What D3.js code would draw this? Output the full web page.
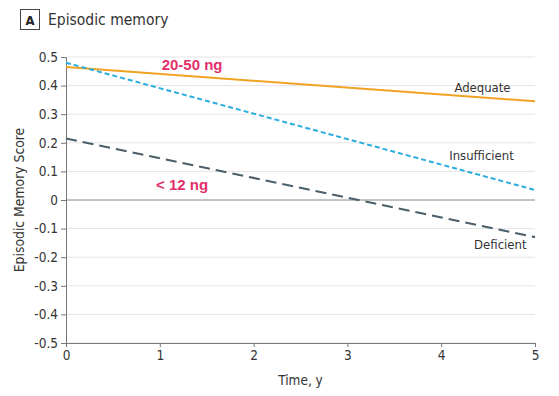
<!DOCTYPE html>
<html>
<head>
<meta charset="utf-8">
<title>Episodic memory</title>
<script src="https://d3js.org/d3.v7.min.js"></script>
<style>
  html, body { margin: 0; padding: 0; background: #fff; }
  svg { font-family: "DejaVu Sans Condensed", "DejaVu Sans", sans-serif; }
</style>
</head>
<body>
<div id="chart"></div>
<script>
// data
const years = [0, 5]
const groups = ['Adequate', 'Insufficient', 'Deficient']
const adequate = [0.465, 0.345]
const insufficient = [0.48, 0.035]
const deficient = [0.215, -0.13]
const yTicks = [0.5, 0.4, 0.3, 0.2, 0.1, 0, -0.1, -0.2, -0.3, -0.4, -0.5]
const xTicks = [0, 1, 2, 3, 4, 5]

const W = 559, H = 396
const margin = {top: 57, right: 24, bottom: 53, left: 66}

const svg = d3.select('#chart').append('svg')
  .attr('width', W).attr('height', H)

const x = d3.scaleLinear().domain([0, 5]).range([margin.left, W - margin.right])
const y = d3.scaleLinear().domain([-0.5, 0.5]).range([H - margin.bottom, margin.top])

// title box
svg.append('rect').attr('x', 20.5).attr('y', 9.5).attr('width', 19).attr('height', 20)
  .attr('fill', 'none').attr('stroke', '#444').attr('stroke-width', 1)
svg.append('text').attr('x', 30).attr('y', 25).attr('text-anchor', 'middle')
  .attr('font-size', 13).attr('font-weight', 'bold').attr('fill', '#222').text('A')
svg.append('text').attr('x', 48).attr('y', 25)
  .attr('font-size', 15.5).attr('fill', '#333').text('Episodic memory')

// grid
svg.append('g').selectAll('line').data(yTicks).join('line')
  .attr('x1', margin.left).attr('x2', W - margin.right)
  .attr('y1', d => y(d)).attr('y2', d => y(d))
  .attr('stroke', d => d === 0 ? '#888' : '#e4e4e4')
  .attr('stroke-width', 1)

// axes
const yAxis = svg.append('g').attr('transform', `translate(${margin.left},0)`)
  .call(d3.axisLeft(y).tickValues(yTicks).tickSize(5).tickPadding(3)
    .tickFormat(d => d === 0 ? '0' : d3.format('.1f')(d).replace('\u2212', '-')))
const xAxis = svg.append('g').attr('transform', `translate(0,${H - margin.bottom})`)
  .call(d3.axisBottom(x).tickValues(xTicks).tickSize(4).tickPadding(3)
    .tickFormat(d3.format('d')))

for (const ax of [yAxis, xAxis]) {
  ax.select('.domain').attr('stroke', '#777')
  ax.selectAll('.tick line').attr('stroke', '#777')
  ax.selectAll('.tick text').attr('font-size', 13.5).attr('fill', '#333')
    .attr('font-family', '"DejaVu Sans Condensed", sans-serif')
}

// axis titles
svg.append('text').attr('x', x(2.5)).attr('y', 385).attr('text-anchor', 'middle')
  .attr('font-size', 13.5).attr('fill', '#333').text('Time, y')
svg.append('text').attr('transform', `translate(24,${y(0)}) rotate(-90)`)
  .attr('text-anchor', 'middle').attr('font-size', 13.8).attr('fill', '#333')
  .text('Episodic Memory Score')

// lines
const series = [
  {name: 'Adequate', values: adequate, color: '#f0a323', dash: null, width: 2},
  {name: 'Insufficient', values: insufficient, color: '#2badde', dash: '5,3', width: 2},
  {name: 'Deficient', values: deficient, color: '#4b5f6b', dash: '11,6', width: 2.2}
]
const line = d3.line().x((d, i) => x(years[i])).y(d => y(d))
svg.append('g').selectAll('path').data(series).join('path')
  .attr('d', d => line(d.values))
  .attr('fill', 'none')
  .attr('stroke', d => d.color)
  .attr('stroke-width', d => d.width)
  .attr('stroke-dasharray', d => d.dash)

// line labels
const labelPos = {Adequate: [4.44, 0.378], Insufficient: [4.43, 0.14], Deficient: [4.63, -0.171]}
svg.append('g').selectAll('text').data(groups).join('text')
  .attr('x', d => x(labelPos[d][0])).attr('y', d => y(labelPos[d][1]))
  .attr('text-anchor', 'middle').attr('font-size', 13).attr('fill', '#333')
  .text(d => d)

// annotations
svg.append('text').attr('x', x(1.02)).attr('y', y(0.455))
  .attr('font-family', '"Liberation Sans", Arial, sans-serif')
  .attr('font-size', 15).attr('font-weight', 'bold').attr('fill', '#e3306c').text('20-50 ng')
svg.append('text').attr('x', x(0.96)).attr('y', y(0.035))
  .attr('font-family', '"Liberation Sans", Arial, sans-serif')
  .attr('font-size', 15).attr('font-weight', 'bold').attr('fill', '#e3306c').text('< 12 ng')
</script>
</body>
</html>
